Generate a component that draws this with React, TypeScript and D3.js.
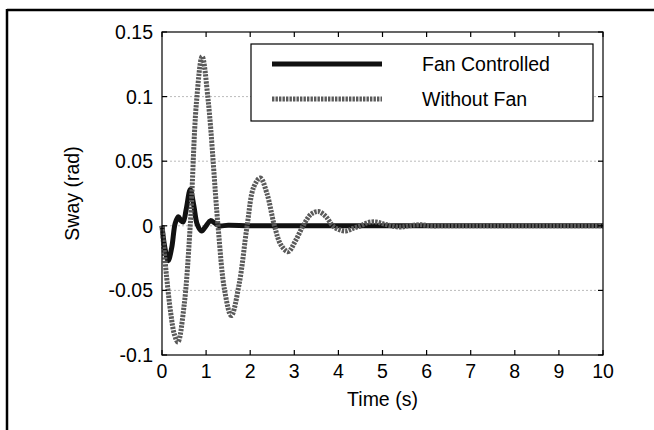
import * as d3 from "d3";
import { useEffect, useRef } from "react";

// time (s) and sway (rad)
const fanT = [0, 0.06, 0.14, 0.22, 0.3, 0.37, 0.43, 0.48, 0.55, 0.64, 0.72, 0.8, 0.9, 1.0, 1.1, 1.2, 1.3, 1.5, 2, 3, 4, 5, 6, 7, 8, 9, 10];
const fanV = [0, -0.016, -0.027, -0.017, 0.002, 0.007, 0.004, 0.003, 0.013, 0.028, 0.016, 0.001, -0.004, 0, 0.004, 0.002, 0, 0.0005, 0, 0, 0, 0, 0, 0, 0, 0, 0];

const noFanT = [0, 0.1, 0.2, 0.28, 0.36, 0.5, 0.64, 0.78, 0.91, 1.05, 1.27, 1.42, 1.57, 1.75, 1.93, 2.08, 2.23, 2.38, 2.55, 2.7, 2.86, 3.02, 3.2, 3.38, 3.55, 3.72, 3.87, 4.02, 4.17, 4.33, 4.5, 4.67, 4.85, 5.02, 5.2, 5.4, 5.6, 5.85, 6.1, 6.4, 7, 8, 9, 10];
const noFanV = [0, -0.038, -0.068, -0.084, -0.09, -0.062, 0, 0.095, 0.131, 0.096, 0, -0.05, -0.0695, -0.045, 0, 0.03, 0.037, 0.025, 0, -0.015, -0.02, -0.012, 0, 0.009, 0.011, 0.007, 0, -0.003, -0.004, -0.002, 0, 0.0025, 0.003, 0.0015, 0, -0.001, 0, 0.0008, 0, 0, 0, 0, 0, 0];

const xTicks = [0, 1, 2, 3, 4, 5, 6, 7, 8, 9, 10];
const yTicks = [0.15, 0.1, 0.05, 0, -0.05, -0.1];
const yTickLabels = ["0.15", "0.1", "0.05", "0", "-0.05", "-0.1"];
const gridVals = [0.1, 0.05, 0, -0.05];

const FONT = "'Liberation Sans', Arial, sans-serif";

function drawChart(svgEl) {
    const svg = d3.select(svgEl);
    svg.selectAll("*").remove();

    const area = { left: 162, right: 603, top: 32, bottom: 355 };

    const scX = d3.scaleLinear().domain([0, 10]).range([area.left, area.right]);
    const scY = d3.scaleLinear().domain([-0.1, 0.15]).range([area.bottom, area.top]);

    // outer frame (top and left only)
    svg.append("line").attr("x1", 7).attr("x2", 654).attr("y1", 10).attr("y2", 10)
        .attr("stroke", "#000").attr("stroke-width", 2.5);
    svg.append("line").attr("x1", 7).attr("x2", 7).attr("y1", 9).attr("y2", 430)
        .attr("stroke", "#000").attr("stroke-width", 2.5);

    // grid
    svg.append("g").selectAll("line").data(gridVals).enter().append("line")
        .attr("x1", area.left).attr("x2", area.right)
        .attr("y1", d => scY(d)).attr("y2", d => scY(d))
        .attr("stroke", "#bbb").attr("stroke-width", 1)
        .attr("stroke-dasharray", "2,2");

    const line = (ts, vs) => d3.line()
        .x(i => scX(ts[i]))
        .y(i => scY(vs[i]))
        .curve(d3.curveCatmullRom.alpha(0.5))(d3.range(ts.length));

    const plot = svg.append("g");
    plot.append("path").attr("d", line(fanT, fanV))
        .attr("fill", "none").attr("stroke", "#111").attr("stroke-width", 5)
        .attr("stroke-linejoin", "round");
    plot.append("path").attr("d", line(noFanT, noFanV))
        .attr("fill", "none").attr("stroke", "#5a5a5a").attr("stroke-width", 5)
        .attr("stroke-dasharray", "2.4,1.1");

    // plot frame
    svg.append("rect")
        .attr("x", area.left).attr("y", area.top)
        .attr("width", area.right - area.left).attr("height", area.bottom - area.top)
        .attr("fill", "none").attr("stroke", "#000").attr("stroke-width", 1.2);

    // ticks (inward, mirrored)
    const tl = 5;
    const ticks = svg.append("g").attr("stroke", "#000").attr("stroke-width", 1.2);
    xTicks.forEach(t => {
        ticks.append("line").attr("x1", scX(t)).attr("x2", scX(t))
            .attr("y1", area.bottom).attr("y2", area.bottom - tl);
        ticks.append("line").attr("x1", scX(t)).attr("x2", scX(t))
            .attr("y1", area.top).attr("y2", area.top + tl);
    });
    yTicks.forEach(v => {
        ticks.append("line").attr("x1", area.left).attr("x2", area.left + tl)
            .attr("y1", scY(v)).attr("y2", scY(v));
        ticks.append("line").attr("x1", area.right).attr("x2", area.right - tl)
            .attr("y1", scY(v)).attr("y2", scY(v));
    });

    const labels = svg.append("g").attr("font-family", FONT).attr("font-size", 19.5).attr("fill", "#000");
    xTicks.forEach(t => {
        labels.append("text").attr("x", scX(t)).attr("y", 378)
            .attr("text-anchor", "middle").text(String(t));
    });
    yTicks.forEach((v, i) => {
        labels.append("text").attr("x", area.left - 9).attr("y", scY(v) + 7)
            .attr("text-anchor", "end").text(yTickLabels[i]);
    });
    labels.append("text").attr("x", (area.left + area.right) / 2).attr("y", 406)
        .attr("text-anchor", "middle").text("Time (s)");
    labels.append("text")
        .attr("transform", `translate(79, ${(area.top + area.bottom) / 2}) rotate(-90)`)
        .attr("text-anchor", "middle").text("Sway (rad)");

    // legend
    const lg = svg.append("g");
    lg.append("rect").attr("x", 251).attr("y", 44).attr("width", 342).attr("height", 77)
        .attr("fill", "#fff").attr("stroke", "#000").attr("stroke-width", 1.2);
    lg.append("line").attr("x1", 272).attr("x2", 382).attr("y1", 64).attr("y2", 64)
        .attr("stroke", "#111").attr("stroke-width", 5);
    lg.append("line").attr("x1", 272).attr("x2", 382).attr("y1", 99).attr("y2", 99)
        .attr("stroke", "#5a5a5a").attr("stroke-width", 5).attr("stroke-dasharray", "2.4,1.1");
    lg.append("text").attr("x", 422).attr("y", 71).attr("font-family", FONT).attr("font-size", 19.5)
        .text("Fan Controlled");
    lg.append("text").attr("x", 422).attr("y", 106).attr("font-family", FONT).attr("font-size", 19.5)
        .text("Without Fan");
}

function App() {
    const svgRef = useRef(null);

    useEffect(() => {
        drawChart(svgRef.current);
    }, []);

    return (
        <svg
            ref={svgRef}
            width={654}
            height={430}
            style={{ position: "absolute", left: 0, top: 0, background: "#fff" }}
        ></svg>
    );
}
export default App;
